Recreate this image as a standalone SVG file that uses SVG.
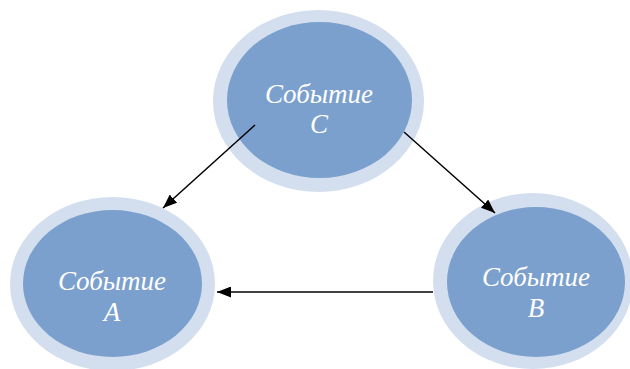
<svg xmlns="http://www.w3.org/2000/svg" width="630" height="369" viewBox="0 0 630 369">
<style>
.outer{fill:#D3DFEE}
.inner{fill:#7BA0CD}
.lbl{font-family:"Liberation Serif","Times New Roman",serif;font-style:italic;font-size:27px;fill:#FFFFFF;text-anchor:middle}
.conn{stroke:#000;stroke-width:1.5;fill:none;marker-end:url(#ah)}
</style>
<defs>
<marker id="ah" viewBox="0 0 10 10" refX="10" refY="5" markerWidth="14" markerHeight="11" markerUnits="userSpaceOnUse" orient="auto" preserveAspectRatio="none">
<path d="M0,0 L10,5 L0,10 z" fill="#000"/>
</marker>
</defs>
<rect width="630" height="369" fill="#fff"/>
<g id="nodeC">
<ellipse class="outer" cx="318.5" cy="101" rx="105.5" ry="91"/>
<ellipse class="inner" cx="319.5" cy="100" rx="92.5" ry="78"/>
<text class="lbl" x="319" y="103">Событие</text>
<text class="lbl" x="319" y="133">C</text>
</g>
<g id="nodeA">
<ellipse class="outer" cx="112.5" cy="284" rx="102.5" ry="87"/>
<ellipse class="inner" cx="112.5" cy="283.5" rx="89.5" ry="73.5"/>
<text class="lbl" x="112" y="290">Событие</text>
<text class="lbl" x="112" y="321">A</text>
</g>
<g id="nodeB">
<ellipse class="outer" cx="533" cy="281" rx="100" ry="88"/>
<ellipse class="inner" cx="536" cy="282" rx="89" ry="75"/>
<text class="lbl" x="536" y="286">Событие</text>
<text class="lbl" x="536" y="317">B</text>
</g>
<g id="connectors">
<line class="conn" x1="255" y1="125" x2="163" y2="208"/>
<line class="conn" x1="404" y1="132" x2="495" y2="213"/>
<line class="conn" x1="433" y1="292" x2="217" y2="292"/>
</g>
</svg>
